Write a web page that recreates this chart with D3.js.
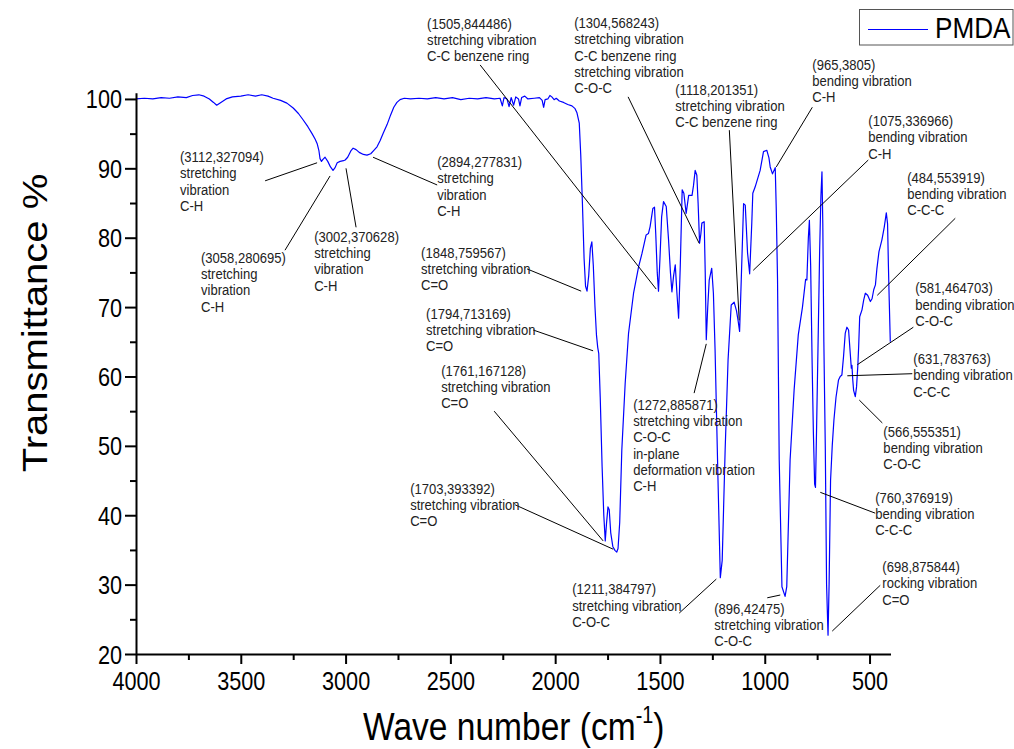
<!DOCTYPE html>
<html><head><meta charset="utf-8">
<script src="https://cdn.jsdelivr.net/npm/d3@7"></script>
<style>body{margin:0;background:#fff} svg{display:block} text{font-family:"Liberation Sans",Arial,sans-serif}</style>
</head><body><svg id="c" width="1014" height="749"></svg>
<script>
const wavenumber = [4000,3960,3920,3880,3840,3800,3760,3730,3700,3675,3650,3630,3615,3595,3570,3540,3500,3465,3430,3400,3370,3346,3310,3280,3250,3225,3203,3180,3160,3145,3135,3127,3122,3115,3108,3098,3085,3072,3060,3050,3040,3026,3010,3002,2990,2975,2964,2950,2935,2915,2898,2880,2865,2850,2835,2820,2802,2785,2770,2755,2740,2720,2690,2650,2610,2570,2530,2490,2450,2410,2370,2330,2290,2263,2252,2244,2230,2220,2210,2198,2188,2175,2168,2160,2145,2130,2100,2075,2062,2055,2048,2035,2025,2016,2005,1995,1980,1960,1940,1920,1905,1896,
1885,1878,1870,1862,1855,1848,1840,1832,1825,1818,1810,1803,1797,1792,1785,1776,1768,1761,1755,1748,1742,1735,1725,1714,1706,1700,1692,1682,1666,1650,1626,1602,1586,1575,1566,1555,1547,1534,1526,1520,1513,1507,1500,1492,1483,1470,1459,1450,1443,1435,1427,1419,1411,1403,1394,1386,1375,1363,1347,1340,1332,1324,1318,1311,1305,1300,1289,1284,1279,1272,1265,1253,1245,1237,1223,1212,1203,1189,1175,1160,1146,1135,1127,1120,1112,1101,1093,1082,1072,1062,1057,1046,1022,1006,990,980,974,963,950,945,939,931,918,903,895,879,860,840,820,805,799,792,787,781,774,768,762,758,753,746,738,732,727,723,718,711,705,698,693,686,678,670,660,648,640,632,624,616,608,600,592,587,584,580,576,568,562,556,552,547,536,528,520,509,496,488,480,472,465,455,441,430,420,414,410,406,401];
const transmittance = [100.0,100.1,100.0,100.2,100.1,100.3,100.2,100.5,100.6,100.4,100.0,99.5,99.1,99.5,100.0,100.3,100.4,100.6,100.4,100.6,100.4,100.1,99.8,99.4,98.7,97.9,97.0,96.0,95.0,94.2,93.5,92.5,91.4,91.0,91.3,91.6,91.0,90.2,89.7,90.1,90.8,91.0,91.1,91.2,91.6,92.5,92.9,92.7,92.3,92.0,91.9,92.1,92.6,93.1,94.0,95.1,96.3,97.7,98.8,99.5,99.9,100.1,100.0,100.1,100.0,100.2,100.0,100.2,99.9,100.1,100.0,100.2,100.0,100.1,99.0,100.2,100.0,98.9,100.2,99.1,100.3,100.0,99.0,100.2,100.4,100.0,100.1,100.2,99.8,98.8,99.9,100.0,100.5,100.3,99.9,100.1,99.7,99.5,99.2,99.0,98.6,98.0,
96.5,92,85,77,73,72.3,74.5,78.5,79.4,76,70,66,64.2,63.3,57,47,40,36.3,38.8,41.2,40.8,37.5,35.5,34.9,34.7,35.2,39,49.4,59,66.2,72,75.8,77.7,79.2,80.4,80.6,81.6,84.2,84.4,80.5,75,72.3,77,83,85.2,84.5,79.7,75,72.2,74.5,76.1,72,68.4,76,86.9,86.4,83.5,86.1,86.1,87.5,89.7,89.0,85,79.2,80.5,82.1,82.3,75,65.3,70,73.9,75.6,72,63.8,45,31,33.5,49.4,62.4,70.3,70.7,69.5,68,66.5,74,84.9,84.7,77.8,74.8,82,86.4,87.3,89.7,92.4,92.6,91.5,90.2,89.2,90.1,84,73.9,48,29.7,28.3,29.7,48,58,66,70,74,73.9,80,82.5,76,62,52,44.5,44,52,64,78.2,86,89.5,82,65,49.4,30,22.7,30,45,50,53.7,57,59.5,60,60.2,62.9,66.2,67.1,66.7,63.3,61.2,61.6,59.5,58,57.1,58.5,61.5,64.2,68.6,69.6,71,72,71.7,70.8,71.2,72.5,73.2,75.5,78,79.7,81.5,83.6,82,76,70.9,65];

const xTicks = [4000,3500,3000,2500,2000,1500,1000,500];
const xMinor = [3750,3250,2750,2250,1750,1250,750];
const yTicks = [20,30,40,50,60,70,80,90,100];
const yMinor = [25,35,45,55,65,75,85,95];
const seriesName = "PMDA";

const annoLabels = [
 "(3112,327094)\nstretching\nvibration\nC-H",
 "(3058,280695)\nstretching\nvibration\nC-H",
 "(3002,370628)\nstretching\nvibration\nC-H",
 "(2894,277831)\nstretching\nvibration\nC-H",
 "(1848,759567)\nstretching vibration\nC=O",
 "(1794,713169)\nstretching vibration\nC=O",
 "(1761,167128)\nstretching vibration\nC=O",
 "(1703,393392)\nstretching vibration\nC=O",
 "(1505,844486)\nstretching vibration\nC-C benzene ring",
 "(1304,568243)\nstretching vibration\nC-C benzene ring\nstretching vibration\nC-O-C",
 "(1118,201351)\nstretching vibration\nC-C benzene ring",
 "(965,3805)\nbending vibration\nC-H",
 "(1075,336966)\nbending vibration\nC-H",
 "(484,553919)\nbending vibration\nC-C-C",
 "(581,464703)\nbending vibration\nC-O-C",
 "(631,783763)\nbending vibration\nC-C-C",
 "(566,555351)\nbending vibration\nC-O-C",
 "(760,376919)\nbending vibration\nC-C-C",
 "(698,875844)\nrocking vibration\nC=O",
 "(1211,384797)\nstretching vibration\nC-O-C",
 "(896,42475)\nstretching vibration\nC-O-C",
 "(1272,885871)\nstretching vibration\nC-O-C\nin-plane\ndeformation vibration\nC-H"
];
// label anchor (wavenumber, transmittance)
const annoAt = [[3790,90.9],[3690,76.4],[3150,79.4],[2563,90.2],[2640,77.1],[2616,68.3],[2544,60.1],[2692,43.1],[2611,110.1],[1909,110.2],[1427,100.6],[773,104.2],[506,96.1],[320,87.9],[282,72.0],[291,61.8],[434,51.3],[473,41.8],[439,31.8],[1919,28.6],[1241,25.8],[1628,55.2]];
// leader lines [w1,T1,w2,T2]
const annoLeader = [[3384,88.2,3136,90.8],[3289,78.2,3074,88.9],[2950,81.5,2998,90.0],[2563,87.6,2869,91.6],[2134,75.5,1876,72.3],[2105,66.7,1819,63.7],[2291,55.0,1771,36.3],[2191,41.5,1723,35.1],[2358,104.9,1518,72.6],[1652,100.3,1313,79.2],[1169,95.5,1122,68.1],[773,98.8,945,90.2],[506,91.2,1055,75.3],[91,82.8,463,71.7],[291,67.1,558,61.7],[606,60.1,296,60.4],[549,56.6,439,53.3],[735,43.3,473,40.3],[678,23.3,449,29.9],[1408,25.9,1231,30.8],[988,28.1,926,28.5],[1337,57.6,1279,64.7]];

const svg = d3.select('#c');
const x = d3.scaleLinear().domain([4000,400]).range([136,890.5]);
const y = d3.scaleLinear().domain([20,100.9]).range([654,92.7]);

// spectrum
const data = wavenumber.map((w,i)=>({w, t: transmittance[i]}));
svg.append('path').datum(data)
  .attr('fill','none').attr('stroke','#0000ff').attr('stroke-width',1.2)
  .attr('stroke-linejoin','round')
  .attr('d', d3.line().x(d=>x(d.w)).y(d=>y(d.t)));

// axes
const gx = svg.append('g').attr('transform','translate(0,654)')
  .call(d3.axisBottom(x).tickValues(xTicks).tickFormat(d3.format('d')).tickSize(10).tickSizeOuter(0));
svg.append('g').attr('transform','translate(0,654)')
  .call(d3.axisBottom(x).tickValues(xMinor).tickSize(6).tickFormat(''))
  .call(g=>g.select('.domain').remove());
const gy = svg.append('g').attr('transform','translate(136,0)')
  .call(d3.axisLeft(y).tickValues(yTicks).tickFormat(d3.format('d')).tickSize(11).tickSizeOuter(0));
svg.append('g').attr('transform','translate(136,0)')
  .call(d3.axisLeft(y).tickValues(yMinor).tickSize(6).tickFormat(''))
  .call(g=>g.select('.domain').remove());
svg.selectAll('.domain, .tick line').attr('stroke','#000').attr('stroke-width',2);
gx.selectAll('.tick text').attr('x',null).attr('y',null).attr('dy',null)
  .attr('transform','translate(0,36) scale(0.85,1)')
  .attr('font-size',25.5).attr('fill','#000').attr('text-anchor','middle');
gy.selectAll('.tick text').attr('x',null).attr('y',null).attr('dy',null)
  .attr('transform','translate(-14,9) scale(0.85,1)')
  .attr('font-size',25.5).attr('fill','#000').attr('text-anchor','end');
svg.selectAll('.tick text').attr('font-family','"Liberation Sans",Arial,sans-serif');

// annotations
const ga = svg.append('g');
annoLeader.forEach(l=>{
  ga.append('line').attr('x1',x(l[0])).attr('y1',y(l[1])).attr('x2',x(l[2])).attr('y2',y(l[3]))
    .attr('stroke','#000').attr('stroke-width',1);
});
annoLabels.forEach((s,i)=>{
  const t = ga.append('text')
    .attr('transform',`translate(${x(annoAt[i][0])},${y(annoAt[i][1])}) scale(0.87,1)`)
    .attr('font-size',15).attr('fill','#222');
  s.split('\n').forEach((line,j)=>{
    t.append('tspan').attr('x',0).attr('dy', j===0?0:16.3).text(line);
  });
});

// titles
const xt = svg.append('text').attr('transform','translate(363,740) scale(0.86,1)')
  .attr('font-size',39).attr('fill','#000');
xt.append('tspan').text('Wave number (cm');
xt.append('tspan').attr('font-size',23).attr('dy',-17).text('-1');
xt.append('tspan').attr('dy',17).text(')');
svg.append('text').attr('transform','translate(47,323) scale(0.86,1) rotate(-90)')
  .attr('text-anchor','middle').attr('font-size',40).attr('fill','#000')
  .text('Transmittance %');

// legend
svg.append('rect').attr('x',859.5).attr('y',9.5).attr('width',153.5).attr('height',35.5)
  .attr('fill','#fff').attr('stroke','#555').attr('stroke-width',1);
svg.append('line').attr('x1',868).attr('x2',928).attr('y1',29.5).attr('y2',29.5)
  .attr('stroke','#0000ff').attr('stroke-width',1.2);
svg.append('text').attr('transform','translate(935,38) scale(0.87,1)')
  .attr('font-size',30).attr('fill','#000').text(seriesName);
</script></body></html>
